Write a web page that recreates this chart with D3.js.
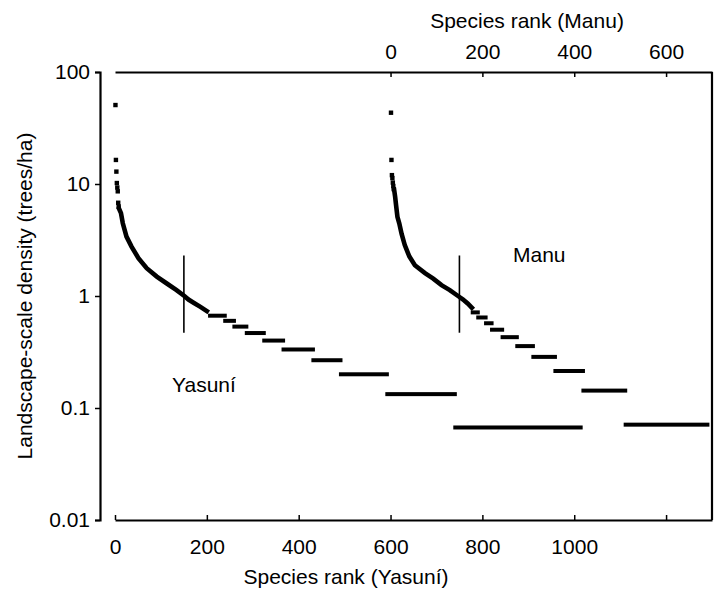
<!DOCTYPE html>
<html>
<head>
<meta charset="utf-8">
<script src="https://cdn.jsdelivr.net/npm/d3@7"></script>
<style>
  body { margin: 0; background: #fff; }
  text { font-family: "Liberation Sans", Arial, sans-serif; fill: #000; }
</style>
</head>
<body>
<svg id="chart"></svg>
<script>
const width = 715;
const height = 592;

// Yasuni: isolated top-ranked species [rank, density]
const yasuniTop = [[1, 50.7], [2, 16.4], [3, 12.9], [4, 10.2], [5, 9.3], [6, 8.6], [7, 6.8], [8, 6.3]];
// Yasuni: dense part of the curve [rank, density]
const yasuniCurve = [[9, 6.0], [13, 5.5], [17, 4.46], [25, 3.39], [36, 2.76], [51, 2.18], [69, 1.77],
  [91, 1.49], [112, 1.3], [134, 1.13], [151, 1.0], [160, 0.93], [172, 0.867], [186, 0.8], [200, 0.733]];
// Yasuni: runs of species sharing one density [density, first rank, last rank]
const yasuniSteps = [[0.667, 207, 239], [0.6, 240, 259], [0.533, 260, 286], [0.467, 287, 324],
  [0.4, 325, 366], [0.333, 367, 431], [0.267, 432, 491], [0.2, 492, 592], [0.133, 593, 740], [0.067, 741, 1014]];

const manuTop = [[1, 43.3], [2, 16.4], [3, 12.0], [4, 11.3], [5, 10.3], [6, 9.6], [7, 9.0]];
const manuCurve = [[8, 8.8], [10, 7.7], [12, 6.5], [15, 5.1], [19, 4.46], [24, 3.6], [31, 2.85], [41, 2.25],
  [53, 1.88], [75, 1.6], [93, 1.43], [111, 1.25], [129, 1.13], [147, 1.0], [158, 0.93], [168, 0.857], [177, 0.786]];
const manuSteps = [[0.714, 179, 190], [0.643, 191, 207], [0.571, 208, 220], [0.5, 221, 243],
  [0.429, 244, 275], [0.357, 276, 310], [0.286, 311, 358], [0.214, 359, 419], [0.143, 420, 511], [0.071, 512, 690]];

// vertical marks at rank 150 [rank, low density, high density]
const yasuniMark = [150, 0.47, 2.3];
const manuMark = [150, 0.47, 2.3];

const yTicks = [0.01, 0.1, 1, 10, 100];
const yTickLabels = ["0.01", "0.1", "1", "10", "100"];
const yasuniTicks = [0, 200, 400, 600, 800, 1000, 1200];
const yasuniTickLabels = ["0", "200", "400", "600", "800", "1000", ""];
const manuTicks = [0, 200, 400, 600];

const svg = d3.select("#chart").attr("width", width).attr("height", height);

const x = d3.scaleLinear().domain([0, 1300]).range([115, 712]);
const xTop = d3.scaleLinear().domain([-600, 700]).range([115, 712]);
const y = d3.scaleLog().domain([0.01, 100]).range([520, 72]);

// axes
const leftAxis = svg.append("g")
  .attr("transform", "translate(100,0)")
  .call(d3.axisLeft(y).tickValues(yTicks).tickSizeOuter(0).tickSize(5).tickPadding(5)
    .tickFormat((d, i) => yTickLabels[i]));

const bottomAxis = svg.append("g")
  .attr("transform", "translate(0,520)")
  .call(d3.axisBottom(x).tickValues(yasuniTicks).tickSizeOuter(0).tickSizeInner(-5).tickPadding(19)
    .tickFormat((d, i) => yasuniTickLabels[i]));

const topAxis = svg.append("g")
  .attr("transform", "translate(0,72)")
  .call(d3.axisTop(xTop).tickValues(manuTicks).tickSizeOuter(0).tickSizeInner(-5).tickPadding(13));

[leftAxis, bottomAxis, topAxis].forEach((g) => {
  g.selectAll("path.domain").attr("stroke", "#000").attr("stroke-width", 2.2);
  g.selectAll(".tick line").attr("stroke", "#000").attr("stroke-width", 1.5);
  g.selectAll("text").attr("font-size", 21).attr("font-family", null).attr("fill", "#000");
});

// right frame
svg.append("line")
  .attr("x1", x.range()[1]).attr("x2", x.range()[1])
  .attr("y1", y.range()[1]).attr("y2", y.range()[0])
  .attr("stroke", "#000").attr("stroke-width", 2.2);

// axis titles
svg.append("text").attr("x", 346).attr("y", 584).attr("text-anchor", "middle")
  .attr("font-size", 21).text("Species rank (Yasuní)");
svg.append("text").attr("x", 527).attr("y", 28).attr("text-anchor", "middle")
  .attr("font-size", 21).text("Species rank (Manu)");
svg.append("text").attr("transform", "translate(32,296) rotate(-90)").attr("text-anchor", "middle")
  .attr("font-size", 21).text("Landscape-scale density (trees/ha)");

const drawSite = (xs, tops, curve, steps, mark) => {
  const g = svg.append("g");
  g.selectAll("rect.pt")
    .data(tops)
    .join("rect")
    .attr("class", "pt")
    .attr("x", (d) => xs(d[0]) - 2.2)
    .attr("y", (d) => y(d[1]) - 2.2)
    .attr("width", 4.4)
    .attr("height", 4.4)
    .attr("fill", "#000");

  g.append("path")
    .datum(curve)
    .attr("d", d3.line().x((d) => xs(d[0])).y((d) => y(d[1])))
    .attr("fill", "none")
    .attr("stroke", "#000")
    .attr("stroke-width", 4.6)
    .attr("stroke-linecap", "square");

  g.selectAll("rect.step")
    .data(steps)
    .join("rect")
    .attr("class", "step")
    .attr("x", (d) => xs(d[1]) - 2)
    .attr("y", (d) => y(d[0]) - 2)
    .attr("width", (d) => xs(d[2]) - xs(d[1]) + 4)
    .attr("height", 4)
    .attr("fill", "#000");

  g.append("line")
    .attr("x1", xs(mark[0])).attr("x2", xs(mark[0]))
    .attr("y1", y(mark[2])).attr("y2", y(mark[1]))
    .attr("stroke", "#000")
    .attr("stroke-width", 1.6);
};

drawSite(x, yasuniTop, yasuniCurve, yasuniSteps, yasuniMark);
drawSite(xTop, manuTop, manuCurve, manuSteps, manuMark);

svg.append("text").attr("x", 172).attr("y", 392).attr("font-size", 21).text("Yasuní");
svg.append("text").attr("x", 513).attr("y", 262).attr("font-size", 21).text("Manu");
</script>
</body>
</html>
